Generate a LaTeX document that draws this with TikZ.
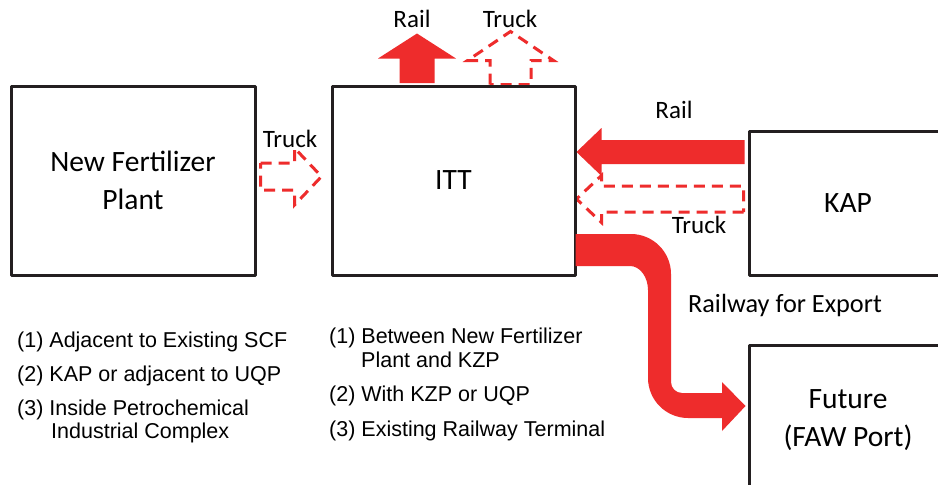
\documentclass[tikz,border=0pt]{standalone}
\usepackage{fontspec}
\setmainfont{Carlito}
\newfontfamily\arl{Liberation Sans}
\usetikzlibrary{calc,backgrounds}
\definecolor{arred}{RGB}{238,44,44}
\definecolor{boxline}{RGB}{35,31,32}
\begin{document}
\begin{tikzpicture}[x=1pt,y=-1pt,
  box/.style={draw=boxline,line width=3pt,line join=round,inner sep=0pt,align=center,font=\fontsize{29.5}{38}\selectfont},
  lbl/.style={font=\fontsize{25}{30}\selectfont,anchor=base,inner sep=0pt},
  item/.style={font=\arl\fontsize{21.5}{25}\selectfont,anchor=base west,inner sep=0pt},
  solidarrow/.style={fill=arred,draw=none},
  dasharrow/.style={draw=arred,line width=3pt,dash pattern=on 11pt off 7pt,line join=miter},
  blockarrow/.style n args={3}{to path={
    ($(\tikztotarget)!#3!(\tikztostart)$) coordinate (ba-h)
    ($(\tikztostart)!#1!90:(\tikztotarget)$) -- ($(ba-h)!#1!90:(\tikztotarget)$)
    -- ($(ba-h)!#2!90:(\tikztotarget)$) -- (\tikztotarget)
    -- ($(ba-h)!#2!-90:(\tikztotarget)$) -- ($(ba-h)!#1!-90:(\tikztotarget)$)
    -- ($(\tikztostart)!#1!-90:(\tikztotarget)$) -- cycle}}
]
\useasboundingbox (0,0) rectangle (938,485);
\clip (0,0) rectangle (938,485);

% boxes
\node[box,minimum width=244pt,minimum height=189pt] (nfp) at (133,180.5) {New Fertilizer\\Plant};
\node[box,minimum width=243pt,minimum height=189pt] (itt) at (453.5,180.5) {ITT};
\node[box,minimum width=198pt,minimum height=144pt] (kap) at (848,203) {KAP};
\node[box,minimum width=198pt,minimum height=150pt] (fut) at (848,420) {Future\\(FAW Port)};

% dashed truck arrows (behind boxes)
\begin{pgfonlayer}{background}
\fill[white] (0,0) rectangle (938,485);
\coordinate (truckS) at ($(itt.north)+(57,0)$);
\coordinate (truckT) at ($(truckS)+(0,-53)$);
\path[dasharrow] (truckS) to[blockarrow={20.5pt}{43pt}{29pt}] (truckT);
\coordinate (ltS) at ($(nfp.east)+(4,-4)$);
\coordinate (ltT) at ($(ltS)+(61,0)$);
\path[dasharrow] (ltS) to[blockarrow={13.5pt}{28.5pt}{27pt}] (ltT);
\coordinate (ktS) at ($(kap.west)+(-4,-4)$);
\coordinate (ktT) at (ktS -| itt.east);
\path[dasharrow] (ktS) to[blockarrow={13pt}{23.5pt}{25pt}] (ktT);
\end{pgfonlayer}

% solid rail arrows
\coordinate (railS) at ($(itt.north)+(-36.5,-1.5)$);
\coordinate (railT) at ($(railS)+(0,-49.5)$);
\path[solidarrow] (railS) to[blockarrow={17.5pt}{39pt}{25pt}] (railT);
\coordinate (krS) at ($(kap.west)+(-3,-51)$);
\coordinate (krT) at (krS -| itt.east);
\path[solidarrow] (krS) to[blockarrow={12pt}{24pt}{25pt}] (krT);

% export railway arrow
\coordinate (exS) at ($(itt.east)+(-1,69.5)$);
\coordinate (exT) at ($(fut.west)+(-2,-14)$);
\fill[arred] ($(exS)+(0,-16)$) -- (631,234) .. controls (653,234) and (671,252) .. (671,274)
  -- (671,382) .. controls (671,388) and (676,393) .. (682,393) -- (722,393) -- (722,382)
  -- (exT) -- (722,431) -- (722,418) -- (688,418) .. controls (666,418) and (648,400) .. (648,378)
  -- (648,290) .. controls (648,277) and (640,266) .. (630,266) -- ($(exS)+(0,16)$) -- cycle;

% arrow labels
\node[lbl] (lRail) at (412,27) {Rail};
\node[lbl] (lTruckTop) at (510,27) {Truck};
\node[lbl] (lTruckL) at (290,147) {Truck};
\node[lbl] (lRailK) at (674,118) {Rail};
\node[lbl] (lTruckK) at (699,233) {Truck};
\node[lbl,font=\fontsize{26.3}{30}\selectfont] (lExport) at (785,312) {Railway for Export};

% lists
\node[item] (a1) at (17,347) {(1) Adjacent to Existing SCF};
\node[item] (a2) at (17,381) {(2) KAP or adjacent to UQP};
\node[item] (a3) at (17,415) {(3) Inside Petrochemical};
\node[item] (a3b) at (51,438) {Industrial Complex};
\node[item] (b1) at (329,343) {(1) Between New Fertilizer};
\node[item] (b1b) at (361,367) {Plant and KZP};
\node[item] (b2) at (329,401) {(2) With KZP or UQP};
\node[item] (b3) at (329,436) {(3) Existing Railway Terminal};
\end{tikzpicture}
\end{document}
